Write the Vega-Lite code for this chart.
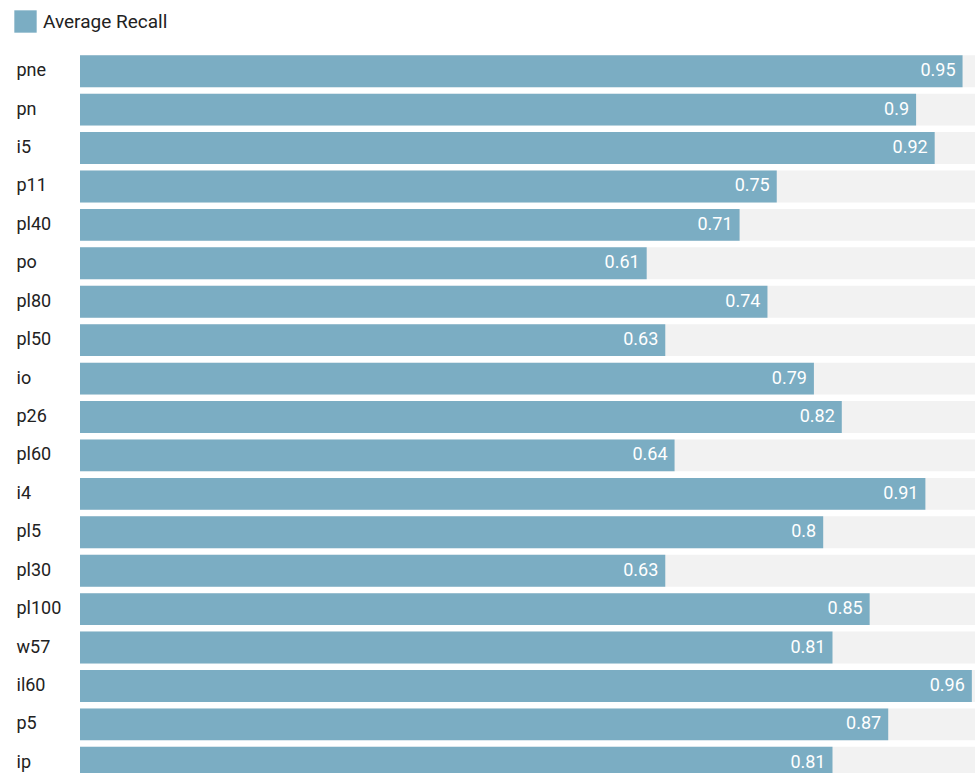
{
  "$schema": "https://vega.github.io/schema/vega-lite/v6.json",
  "autosize": "none",
  "padding": {"left": 80, "top": 52, "right": 0, "bottom": 0},
  "width": 929,
  "height": 730,
  "background": "white",
  "config": {"view": {"stroke": null}, "font": "Roboto"},
  "data": {
    "values": [
      {"model": "pne", "recall": 0.95, "full": 1},
      {"model": "pn", "recall": 0.9, "full": 1},
      {"model": "i5", "recall": 0.92, "full": 1},
      {"model": "p11", "recall": 0.75, "full": 1},
      {"model": "pl40", "recall": 0.71, "full": 1},
      {"model": "po", "recall": 0.61, "full": 1},
      {"model": "pl80", "recall": 0.74, "full": 1},
      {"model": "pl50", "recall": 0.63, "full": 1},
      {"model": "io", "recall": 0.79, "full": 1},
      {"model": "p26", "recall": 0.82, "full": 1},
      {"model": "pl60", "recall": 0.64, "full": 1},
      {"model": "i4", "recall": 0.91, "full": 1},
      {"model": "pl5", "recall": 0.8, "full": 1},
      {"model": "pl30", "recall": 0.63, "full": 1},
      {"model": "pl100", "recall": 0.85, "full": 1},
      {"model": "w57", "recall": 0.81, "full": 1},
      {"model": "il60", "recall": 0.96, "full": 1},
      {"model": "p5", "recall": 0.87, "full": 1},
      {"model": "ip", "recall": 0.81, "full": 1}
    ]
  },
  "encoding": {
    "y": {
      "field": "model",
      "type": "nominal",
      "sort": null,
      "scale": {"paddingInner": 0.17, "paddingOuter": 0.085},
      "axis": {
        "title": null,
        "domain": false,
        "ticks": false,
        "labelAlign": "left",
        "labelPadding": 64,
        "labelFontSize": 18,
        "labelColor": "#222222",
        "labelFont": "Roboto"
      }
    }
  },
  "layer": [
    {
      "mark": {"type": "bar", "color": "#f2f2f2"},
      "encoding": {
        "x": {"field": "full", "type": "quantitative", "scale": {"domain": [0, 1]}, "axis": null}
      }
    },
    {
      "mark": {"type": "bar"},
      "encoding": {
        "x": {"field": "recall", "type": "quantitative", "scale": {"domain": [0, 1]}, "axis": null},
        "color": {
          "datum": "Average Recall",
          "scale": {"range": ["#7badc3"]},
          "legend": {
            "title": null,
            "orient": "none",
            "legendX": -66,
            "legendY": -42,
            "symbolType": "square",
            "symbolSize": 500,
            "symbolStrokeWidth": 0,
            "symbolOpacity": 1,
            "labelFontSize": 19,
            "labelColor": "#222222",
            "labelFont": "Roboto",
            "labelOffset": 6
          }
        }
      }
    },
    {
      "mark": {"type": "text", "align": "right", "dx": -7, "color": "white", "fontSize": 18, "font": "Roboto"},
      "encoding": {
        "x": {"field": "recall", "type": "quantitative", "scale": {"domain": [0, 1]}},
        "text": {"field": "recall", "type": "quantitative"}
      }
    }
  ]
}
